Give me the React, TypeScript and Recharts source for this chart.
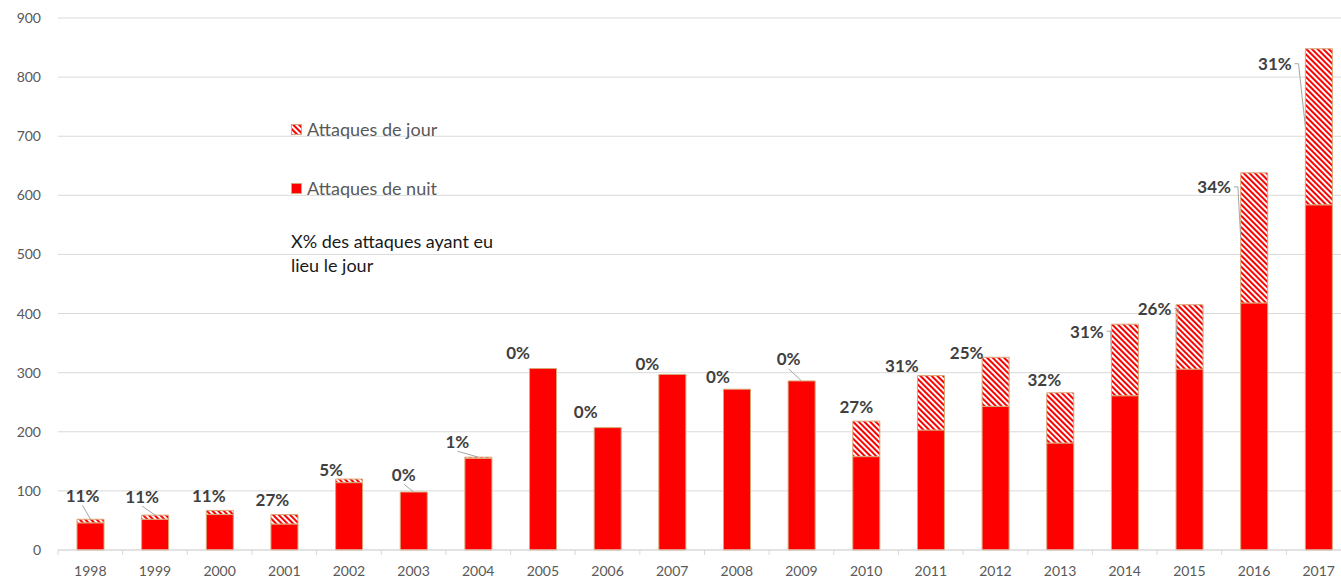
import { BarChart, Bar, XAxis, YAxis, CartesianGrid, LabelList } from "recharts";

const YEARS = [
  "1998", "1999", "2000", "2001", "2002", "2003", "2004", "2005", "2006", "2007",
  "2008", "2009", "2010", "2011", "2012", "2013", "2014", "2015", "2016", "2017",
];
const NIGHT = [46, 52, 60, 44, 114, 98, 155, 307, 207, 297, 272, 286, 158, 203, 243, 181, 261, 306, 418, 584];
const DAY = [6, 7, 7, 16, 6, 0, 2, 0, 0, 0, 0, 0, 60, 92, 83, 85, 121, 109, 220, 264];
const PCT = [11, 11, 11, 27, 5, 0, 1, 0, 0, 0, 0, 0, 27, 31, 25, 32, 31, 26, 34, 31];
const Y_TICKS = [0, 100, 200, 300, 400, 500, 600, 700, 800, 900];

// hand placed label nudges (dx, dy from top of bar), like the excel original
const LABEL_NUDGE: [number, number][] = [
  [-8, -24], [-13, -19], [-11, -15], [-12, -15], [-18, -10], [-10, -18], [-21, -16],
  [-25, -16], [-22, -16], [-25, -11], [-19, -13], [-13, -22], [-10, -15], [-29, -10],
  [-29, -5], [-16, -13], [-38, 7], [-35, 4], [-40, 14], [-44, 15],
];
const HAS_LEADER = [
  true, true, false, false, false, true, true, false, false, false,
  false, true, false, false, false, false, true, true, true, true,
];

const data = YEARS.map((year, i) => ({
  year,
  nuit: NIGHT[i],
  jour: DAY[i],
}));

const FONT = "Lato, 'Open Sans', sans-serif";
const GRID = "#d9d9d9";
const RED = "#ff0000";
const OUTLINE = "#d9a577";

function YearTick(props: any) {
  const { x, y, payload, index } = props;
  const half = payload && payload.offset ? payload.offset : 32.3;
  const axisY = y - 16;
  return (
    <g>
      <line x1={x - half} x2={x - half} y1={axisY} y2={axisY + 5} stroke={GRID} />
      {index === YEARS.length - 1 && (
        <line x1={x + half} x2={x + half} y1={axisY} y2={axisY + 5} stroke={GRID} />
      )}
      <text
        x={x}
        y={y}
        dy="0.71em"
        textAnchor="middle"
        fill="#595959"
        fontSize={14}
        fontFamily={FONT}
      >
        {payload.value}
      </text>
    </g>
  );
}

// label sits on the night bar (never empty); the day segment above it is
// sized with the same px-per-unit as the night rect
function PctLabel(props: any) {
  const vb = props.viewBox || props;
  const i = YEARS.indexOf(String(props.value));
  if (i < 0) return null;
  const x = vb.x;
  const width = vb.width;
  const nightH = Math.abs(vb.height || 0);
  const nightTop = Math.min(vb.y, vb.y + (vb.height || 0));
  const pxPerUnit = NIGHT[i] ? nightH / NIGHT[i] : 0;
  const dayH = DAY[i] * pxPerUnit;
  const top = nightTop - dayH;
  const barCenter = x + width / 2;
  const [dx, dy] = LABEL_NUDGE[i];
  const cx = barCenter + dx;
  const cy = top + dy;
  const text = `${PCT[i]}%`;
  const halfW = text.length * 5.9;
  const segMid = top + dayH / 2;
  let leader = null;
  if (HAS_LEADER[i]) {
    const labelRight = cx + halfW;
    if (labelRight + 2 < x) {
      leader = (
        <polyline
          points={`${labelRight + 2},${cy} ${labelRight + 6},${cy} ${x},${segMid}`}
          fill="none"
          stroke="#a6a6a6"
          strokeWidth={1}
        />
      );
    } else {
      leader = (
        <line x1={cx} y1={cy + 10} x2={barCenter} y2={top} stroke="#a6a6a6" strokeWidth={1} />
      );
    }
  }
  return (
    <g>
      {leader}
      <text
        x={cx}
        y={cy}
        textAnchor="middle"
        dominantBaseline="central"
        fill="#404040"
        fontSize={17}
        fontWeight="bold"
        fontFamily={FONT}
      >
        {text}
      </text>
    </g>
  );
}

function Hatch({ id }: { id: string }) {
  return (
    <pattern
      id={id}
      patternUnits="userSpaceOnUse"
      width={4}
      height={4}
      patternTransform="rotate(-45)"
    >
      <rect x={0} y={0} width={4} height={4} fill="#ffffff" />
      <rect x={0} y={0} width={2} height={4} fill={RED} />
    </pattern>
  );
}

export default function App() {
  return (
    <div
      style={{
        position: "fixed",
        left: 0,
        top: 0,
        width: 1341,
        height: 583,
        overflow: "hidden",
        background: "#ffffff",
      }}
    >
      <BarChart
        width={1351}
        height={583}
        data={data}
        margin={{ top: 18, right: 0, bottom: 0, left: 8 }}
        barSize={27}
      >
        <defs>
          <Hatch id="hatchJour" />
        </defs>
        <CartesianGrid vertical={false} stroke={GRID} />
        <XAxis
          dataKey="year"
          height={33}
          axisLine={{ stroke: GRID }}
          tickLine={false}
          tickSize={0}
          tickMargin={16}
          interval={0}
          tick={<YearTick />}
        />
        <YAxis
          width={50}
          domain={[0, 900]}
          ticks={Y_TICKS}
          axisLine={false}
          tickLine={false}
          tickSize={0}
          tickMargin={17}
          tick={{ fill: "#595959", fontSize: 14, fontFamily: FONT }}
        />
        <Bar
          dataKey="nuit"
          stackId="a"
          fill={RED}
          stroke={OUTLINE}
          strokeWidth={1}
          isAnimationActive={false}
        >
          <LabelList dataKey="year" content={<PctLabel />} />
        </Bar>
        <Bar
          dataKey="jour"
          stackId="a"
          fill="url(#hatchJour)"
          stroke={OUTLINE}
          strokeWidth={1}
          isAnimationActive={false}
        />
      </BarChart>

      {/* Legend */}
      <div
        style={{
          position: "absolute",
          left: 291,
          top: 117,
          fontFamily: FONT,
          fontSize: 18,
          color: "#595959",
        }}
      >
        <div style={{ display: "flex", alignItems: "center", height: 24 }}>
          <svg width={11} height={11} style={{ marginRight: 5 }}>
            <defs>
              <Hatch id="hatchLegend" />
            </defs>
            <rect x={0.5} y={0.5} width={10} height={10} fill="url(#hatchLegend)" stroke={OUTLINE} />
          </svg>
          <span>Attaques de jour</span>
        </div>
        <div style={{ display: "flex", alignItems: "center", height: 24, marginTop: 35 }}>
          <svg width={11} height={11} style={{ marginRight: 5 }}>
            <rect x={0.5} y={0.5} width={10} height={10} fill={RED} stroke={OUTLINE} />
          </svg>
          <span>Attaques de nuit</span>
        </div>
        <div style={{ marginTop: 29, color: "#1a1a1a", lineHeight: "24px" }}>
          X% des attaques ayant eu
          <br />
          lieu le jour
        </div>
      </div>
    </div>
  );
}
